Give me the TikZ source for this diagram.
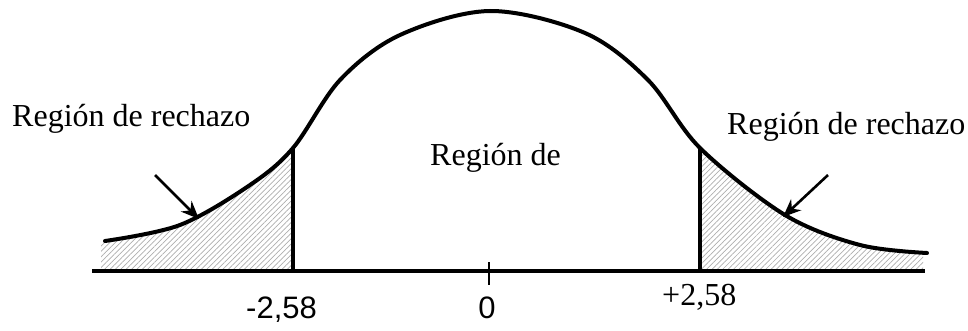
\documentclass[tikz,border=0pt]{standalone}
\usepackage{fontspec}
\setmainfont{Liberation Serif}
\newfontfamily\arialfont{Liberation Sans}
\usetikzlibrary{patterns.meta,arrows.meta}
\begin{document}
\begin{tikzpicture}[x=1pt,y=-1pt,
  curve/.style={line width=4pt, line cap=round, line join=round},
  bar/.style={line width=4.5pt},
  tickmark/.style={line width=2.8pt},
  hatch/.style={pattern={Lines[angle=45,distance=3.8pt,line width=0.7pt]}, pattern color=black!32},
  lbl/.style={inner sep=0pt, font=\fontsize{32}{36}\selectfont},
  num/.style={inner sep=0pt, font=\arialfont\fontsize{31}{35}\selectfont},
  pointer/.style={line width=2.6pt, -{Stealth[length=18pt,width=15pt]}}]
\useasboundingbox (0,0) rectangle (968,331);
% hatched rejection regions
\begin{scope}
\clip (101,0) rectangle (293,269);
\fill[hatch] (101,269) -- (101,244) -- plot[smooth,tension=0.55] coordinates {(105,241) (180,225) (250,185) (293,148) (340,80) (400,35) (490,11) (585,33) (648,80) (700,148) (785,215) (860,245) (927,253)} -- (927,269) -- cycle;
\end{scope}
\begin{scope}
\clip (700,0) rectangle (923,269);
\fill[hatch] (101,269) -- (101,244) -- plot[smooth,tension=0.55] coordinates {(105,241) (180,225) (250,185) (293,148) (340,80) (400,35) (490,11) (585,33) (648,80) (700,148) (785,215) (860,245) (927,253)} -- (927,269) -- cycle;
\end{scope}
% bell curve
\draw[curve] plot[smooth,tension=0.55] coordinates {(105,241) (180,225) (250,185) (293,148) (340,80) (400,35) (490,11) (585,33) (648,80) (700,148) (785,215) (860,245) (927,253)};
% named points
\coordinate (axL) at (92,271);
\coordinate (axR) at (925,271);
\coordinate (lTop) at (293,148);
\coordinate (lFoot) at (293,271);
\coordinate (rTop) at (700,148);
\coordinate (rFoot) at (700,271);
\coordinate (tickT) at (489,262);
\coordinate (tickB) at (489,285);
\coordinate (laStart) at (155,175);
\coordinate (laEnd) at (199,219);
\coordinate (raStart) at (828,175);
\coordinate (raEnd) at (783,217);
% axis and limits
\draw[bar] (lTop) -- (lFoot);
\draw[bar] (rTop) -- (rFoot);
\draw[bar] (axL) -- (axR);
\draw[tickmark] (tickT) -- (tickB);
% pointers
\draw[pointer] (laStart) -- (laEnd);
\draw[pointer] (raStart) -- (raEnd);
% labels
\node[lbl, anchor=base west] (rejL) at (12,127) {Región de rechazo};
\node[lbl, anchor=base west] (rejR) at (727,135) {Región de rechazo};
\node[lbl, anchor=base west] (acc) at (430,165) {Región de};
\node[num, anchor=base west] (mval) at (246,318) {-2,58};
\node[num, anchor=base] (zero) at (487,318) {0};
\node[lbl, anchor=base west] (pval) at (662,305) {+2,58};
\end{tikzpicture}
\end{document}
